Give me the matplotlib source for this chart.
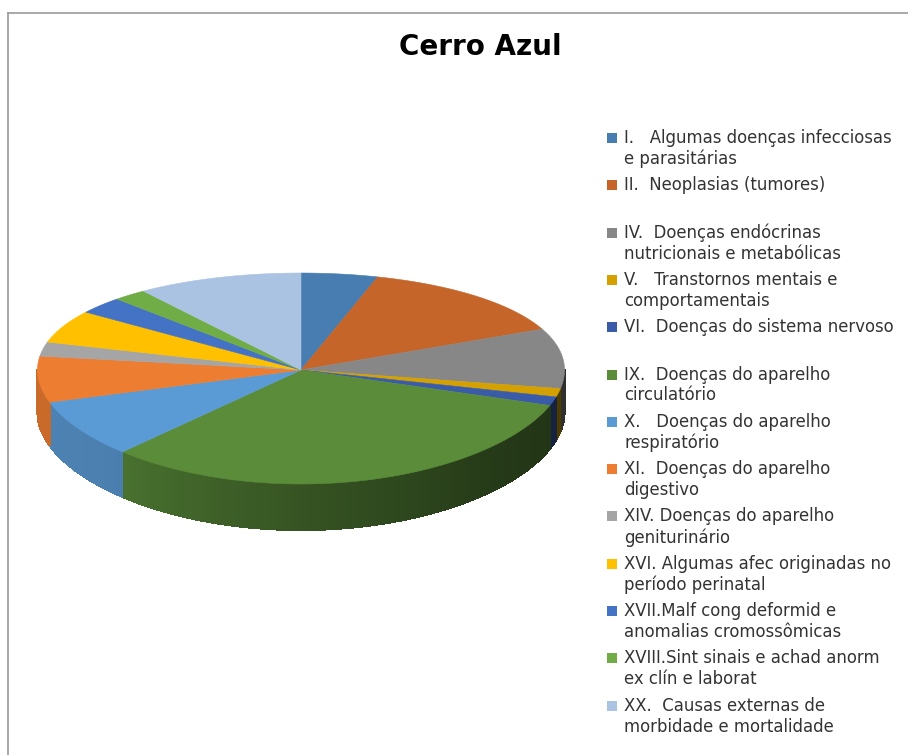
import numpy as np
import matplotlib
matplotlib.use("Agg")
import matplotlib.pyplot as plt
from matplotlib.patches import Polygon, Rectangle
from matplotlib.colors import to_rgb

# ---- data ----
title = "Cerro Azul"
labels = [
    "I.   Algumas doenças infecciosas\ne parasitárias",
    "II.  Neoplasias (tumores)",
    "IV.  Doenças endócrinas\nnutricionais e metabólicas",
    "V.   Transtornos mentais e\ncomportamentais",
    "VI.  Doenças do sistema nervoso",
    "IX.  Doenças do aparelho\ncirculatório",
    "X.   Doenças do aparelho\nrespiratório",
    "XI.  Doenças do aparelho\ndigestivo",
    "XIV. Doenças do aparelho\ngeniturinário",
    "XVI. Algumas afec originadas no\nperíodo perinatal",
    "XVII.Malf cong deformid e\nanomalias cromossômicas",
    "XVIII.Sint sinais e achad anorm\nex clín e laborat",
    "XX.  Causas externas de\nmorbidade e mortalidade",
]
# share of deaths (%)
values = [4.7, 13.7, 9.4, 1.25, 1.3, 31.5, 8.3, 7.0, 2.25, 5.4, 2.9, 2.1, 10.2]
colors = ["#477db0", "#c5652a", "#878787", "#d4a100", "#3a5ca8", "#5a8c3a",
          "#5b9bd5", "#ed7d31", "#a5a5a5", "#ffc000", "#4472c4", "#70ad47",
          "#abc3e3"]

FONT = ["DejaVu Sans"]
plt.rcParams['font.family'] = FONT

W, H = 908, 755
fig = plt.figure(figsize=(W / 100, H / 100), dpi=100)
ax = fig.add_axes([0, 0, 1, 1])
ax.set_xlim(0, W)
ax.set_ylim(H, 0)
ax.axis("off")

# chart frame (top and left edges visible in the crop)
ax.plot([8, W], [13, 13], color="#999999", lw=1.2)
ax.plot([8, 8], [13, H], color="#999999", lw=1.2)

ax.text(480, 47, title, ha="center", va="center", fontsize=20,
        fontweight="bold", color="black")

# ---- 3D pie geometry (tilted disc, nearer half drawn larger) ----
cx, cy = 301, 370
A, B, k, depth = 263.5, 104.8, 0.0806, 42.3


def proj(theta, drop=0.0):
    X, Z = np.cos(theta), np.sin(theta)
    s = 1.0 / (1.0 + k * Z)
    return cx + A * X, cy - B * Z * s + drop * s


def shade(theta_deg):
    t = theta_deg % 360
    pts = [(180, 0.86), (225, 0.82), (270, 0.6), (315, 0.42), (360, 0.35)]
    xs, ys = zip(*pts)
    return np.interp(t, xs, ys)


vals = np.array(values, dtype=float)
frac = vals / vals.sum()
cum = np.concatenate([[0], np.cumsum(frac)])
starts = 90 - 360 * cum[:-1]
ends = 90 - 360 * cum[1:]

# side walls (front half only)
for s_deg, e_deg, col in zip(starts, ends, colors):
    lo, hi = e_deg, s_deg
    segs = []
    for off in (0, -360, 360):
        a0, a1 = max(lo + off, -180), min(hi + off, 0)
        if a1 > a0:
            segs.append((a0, a1))
    base = np.array(to_rgb(col))
    for a0, a1 in segs:
        n = max(2, int((a1 - a0) / 0.5))
        edges = np.linspace(a0, a1, n + 1)
        for t0, t1 in zip(edges[:-1], edges[1:]):
            th = np.radians(np.linspace(t0, t1, 4))
            xt, yt = proj(th)
            xb, yb = proj(th[::-1], depth)
            poly = np.column_stack([np.concatenate([xt, xb]),
                                    np.concatenate([yt, yb])])
            c = np.clip(base * shade((t0 + t1) / 2 + 360), 0, 1)
            ax.add_patch(Polygon(poly, closed=True, facecolor=c,
                                 edgecolor=c, lw=0.8, zorder=2,
                                 antialiased=False))

# top faces
for s_deg, e_deg, col in zip(starts, ends, colors):
    th = np.radians(np.linspace(s_deg, e_deg, 200))
    xs, ys = proj(th)
    poly = np.column_stack([np.concatenate([[cx], xs]),
                            np.concatenate([[cy], ys])])
    ax.add_patch(Polygon(poly, closed=True, facecolor=col, edgecolor=col,
                         lw=0.4, zorder=3))

# ---- legend ----
y0, step = 138, 47.3
for i, (lab, col) in enumerate(zip(labels, colors)):
    y = y0 + i * step
    ax.add_patch(Rectangle((606.5, y - 5), 10, 10, facecolor=col,
                           edgecolor="none", zorder=4))
    for j, line in enumerate(lab.split("\n")):
        ax.text(624, y + j * 21, line, ha="left", va="center",
                fontsize=11.9, color="#333333")

fig.savefig("out.png", dpi=100)
